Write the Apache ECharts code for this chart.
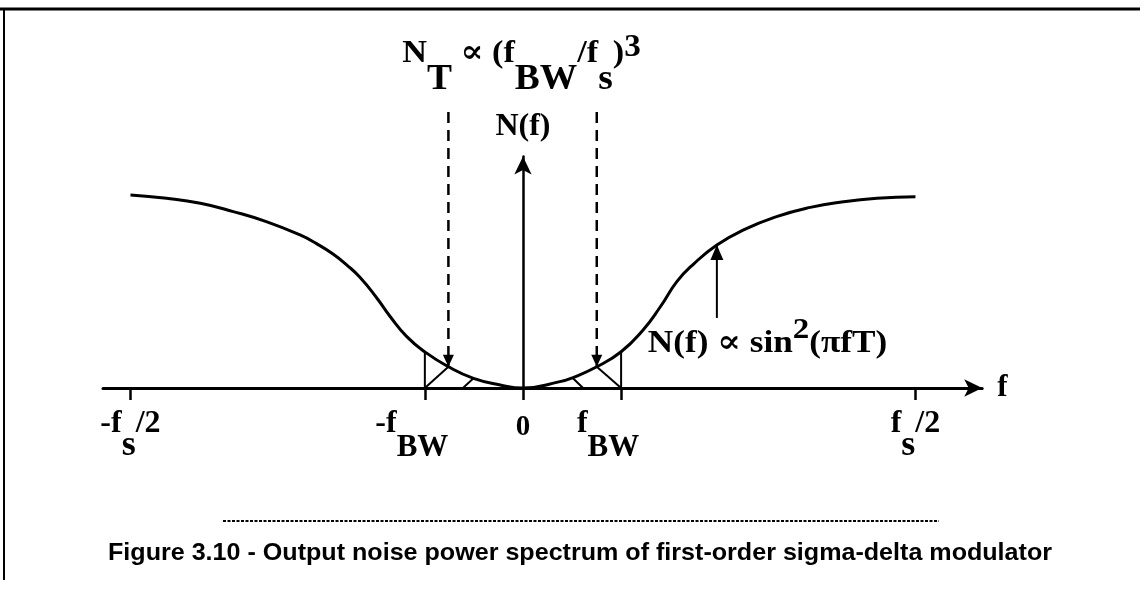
<!DOCTYPE html>
<html>
<head>
<meta charset="utf-8">
<script src="https://cdn.jsdelivr.net/npm/echarts@6/dist/echarts.min.js"></script>
<style>
  html, body { margin: 0; padding: 0; background: #fff; }
  #chart { width: 1145px; height: 590px; }
</style>
</head>
<body>
<div id="chart"></div>
<script>
// Normalised frequency f/fs and relative output noise power N(f)
const freq  = [-0.5, -0.454, -0.411, -0.369, -0.327, -0.284, -0.263, -0.242, -0.225, -0.208, -0.186, -0.169, -0.148, -0.125, -0.095, -0.063, -0.029,
               0, 0.047, 0.063, 0.094, 0.125, 0.153, 0.175, 0.196, 0.217, 0.247, 0.281, 0.323, 0.366, 0.408, 0.451, 0.5];
const noise = [1.0, 0.983, 0.957, 0.914, 0.862, 0.793, 0.748, 0.694, 0.639, 0.575, 0.465, 0.369, 0.266, 0.187, 0.110, 0.050, 0.016,
               0, 0.033, 0.053, 0.110, 0.188, 0.301, 0.421, 0.551, 0.641, 0.741, 0.819, 0.888, 0.936, 0.965, 0.983, 0.991];

// Frequency axis marks
const tickValues = [-0.5, -0.125, 0, 0.125, 0.5];
const tickLabels = ['-f_s/2', '-f_BW', '0', 'f_BW', 'f_s/2'];

// Signal band edge and the in-band points the annotations point at
const fBW = 0.125;
const bandArrowF = [-0.095, 0.094];   // dashed arrows end on the curve here
const bandArrowTop = 1.43;            // dashed arrows start here
const hatchFoot = [-0.0765, 0.0765];  // small hatch strokes start on the axis here
const hatchTip = [-0.063, 0.063];     // ... and end on the curve here
const curveArrowF = 0.247;            // arrow pointing at the curve
const curveArrowFoot = 0.363;

const caption = 'Figure 3.10 - Output noise power spectrum of first-order sigma-delta modulator';

const SERIF = '"Liberation Serif", "Times New Roman", "DejaVu Serif", serif';
const SANS = '"Liberation Sans", Arial, Helvetica, sans-serif';
const INK = '#000';

const at = f => noise[freq.indexOf(f)];

function segment(a, b, width, extra) {
  return Object.assign({
    type: 'line',
    data: [a, b],
    symbol: 'none',
    clip: false,
    silent: true,
    animation: false,
    lineStyle: { color: INK, width: width },
    itemStyle: { color: INK },
    z: 3
  }, extra || {});
}

// "-f_s/2" -> rich text with a lowered subscript
function tickRich(label) {
  const m = label.match(/^(.*?)_(s|BW)(.*)$/);
  if (!m) return '{z|' + label + '}';
  const subStyle = m[2] === 'BW' ? 'w' : 's';
  let out = '{m|' + m[1] + '}{' + subStyle + '|' + m[2] + '}';
  if (m[3]) out += '{m|' + m[3] + '}';
  if (m[2] === 'BW') out += '{g|\u00a0}';
  return out;
}

const serifBold = { fontFamily: SERIF, fontWeight: 'bold', color: INK };
const rt = (size, top) => Object.assign({ fontSize: size, verticalAlign: 'top', padding: [top, 0, 0, 0] }, serifBold);

const series = [];

// N(f) curve
series.push({
  type: 'line',
  name: 'N(f)',
  data: freq.map((f, i) => [f, noise[i]]),
  smooth: 0.5,
  symbol: 'none',
  silent: true,
  animation: false,
  lineStyle: { color: INK, width: 3 },
  z: 4
});

// band edges at +/- fBW up to the curve
[-fBW, fBW].forEach(f => series.push(segment([f, 0], [f, at(f)], 2)));

// hatch strokes inside the band
[0, 1].forEach(k => {
  const edge = k === 0 ? -fBW : fBW;
  series.push(segment([edge, 0], [bandArrowF[k], at(bandArrowF[k])], 2));
  series.push(segment([hatchFoot[k], 0], [hatchTip[k], at(hatchTip[k])], 2));
});

// dashed arrows for the in-band noise N_T
bandArrowF.forEach(f => series.push(segment(
  [f, bandArrowTop],
  { value: [f, at(f)], symbol: 'triangle', symbolSize: [11, 12], symbolRotate: 180, symbolOffset: [0, -6] },
  2.5,
  { symbol: 'none', lineStyle: { color: INK, width: 2.5, type: [11, 7] } }
)));

// solid arrow up to the curve
series.push(segment(
  [curveArrowF, curveArrowFoot],
  { value: [curveArrowF, at(curveArrowF)], symbol: 'triangle', symbolSize: [13, 15], symbolOffset: [0, 7.5] },
  2
));

const chart = echarts.init(document.getElementById('chart'), null, { renderer: 'canvas' });

chart.setOption({
  backgroundColor: '#fff',
  animation: false,
  grid: { left: 103, right: 162.8, top: 156.4, bottom: 202, containLabel: false, outerBoundsMode: 'none' },
  xAxis: {
    type: 'value',
    min: -0.535,
    max: 0.585,
    name: 'f',
    nameLocation: 'end',
    nameGap: 15,
    nameTextStyle: Object.assign({ fontSize: 31, padding: [10, 0, 0, 0] }, serifBold),
    axisLine: { onZero: true, symbol: ['none', 'arrow'], symbolSize: [13, 18], lineStyle: { color: INK, width: 3 } },
    axisTick: { show: true, customValues: tickValues, length: 12, lineStyle: { color: INK, width: 2.5 } },
    axisLabel: {
      customValues: tickValues,
      margin: 20,
      formatter: v => tickRich(tickLabels[tickValues.indexOf(v)]),
      rich: {
        m: rt(32, 0),
        s: rt(36, 20),
        w: rt(31, 24),
        z: rt(29, 5),
        g: { width: 26, fontSize: 10 }
      }
    },
    splitLine: { show: false }
  },
  yAxis: {
    type: 'value',
    min: 0,
    max: 1.2,
    name: 'N(f)',
    nameLocation: 'end',
    nameGap: 14,
    nameTextStyle: Object.assign({ fontSize: 32 }, serifBold),
    axisLine: { onZero: true, symbol: ['none', 'arrow'], symbolSize: [13, 18], lineStyle: { color: INK, width: 2.5 } },
    axisTick: { show: false },
    axisLabel: { show: false },
    splitLine: { show: false }
  },
  series: series
});

// Annotation texts anchored to the plotted values
const origin = chart.convertToPixel({ gridIndex: 0 }, [0, 0]);
const foot = chart.convertToPixel({ gridIndex: 0 }, [curveArrowF, curveArrowFoot]);

// caption stretched to its printed width
const captionFont = 'bold 24px ' + SANS;
const ctx = document.createElement('canvas').getContext('2d');
ctx.font = captionFont;
const captionScale = 944 / ctx.measureText(caption).width;

chart.setOption({
  graphic: [
    // frame
    { type: 'line', shape: { x1: 0, y1: 9, x2: 1140, y2: 9 }, style: { stroke: INK, lineWidth: 3 }, silent: true },
    { type: 'line', shape: { x1: 4, y1: 8, x2: 4, y2: 580 }, style: { stroke: INK, lineWidth: 2 }, silent: true },
    // N_T formula
    {
      type: 'text', x: origin[0] - 1.5, y: 28, scaleX: 1.07, silent: true,
      style: {
        text: '{m|N}{b|T}{m| \u221d (f}{b|BW}{m|/f}{b|s}{m|)}{p|3}',
        align: 'center', verticalAlign: 'top',
        rich: { m: rt(32, 10), b: rt(35, 34), p: rt(31, 4) }
      }
    },
    // N(f) proportional to sin^2(pi f T)
    {
      type: 'text', x: foot[0] - 69, y: foot[1] - 3, scaleX: 1.1, silent: true,
      style: {
        text: '{m|N(f) \u221d sin}{p|2}{m|(\u03c0fT)}',
        align: 'left', verticalAlign: 'top',
        rich: { m: rt(32, 13), p: rt(30, 0) }
      }
    },
    // caption rule and caption
    { type: 'line', shape: { x1: 223, y1: 521, x2: 939, y2: 521 }, style: { stroke: INK, lineWidth: 2, lineDash: [3, 1.5] }, silent: true },
    {
      type: 'text', x: 580, y: 553, scaleX: captionScale, silent: true,
      style: { text: caption, align: 'center', verticalAlign: 'middle', font: captionFont, fill: INK }
    }
  ]
});
</script>
</body>
</html>
